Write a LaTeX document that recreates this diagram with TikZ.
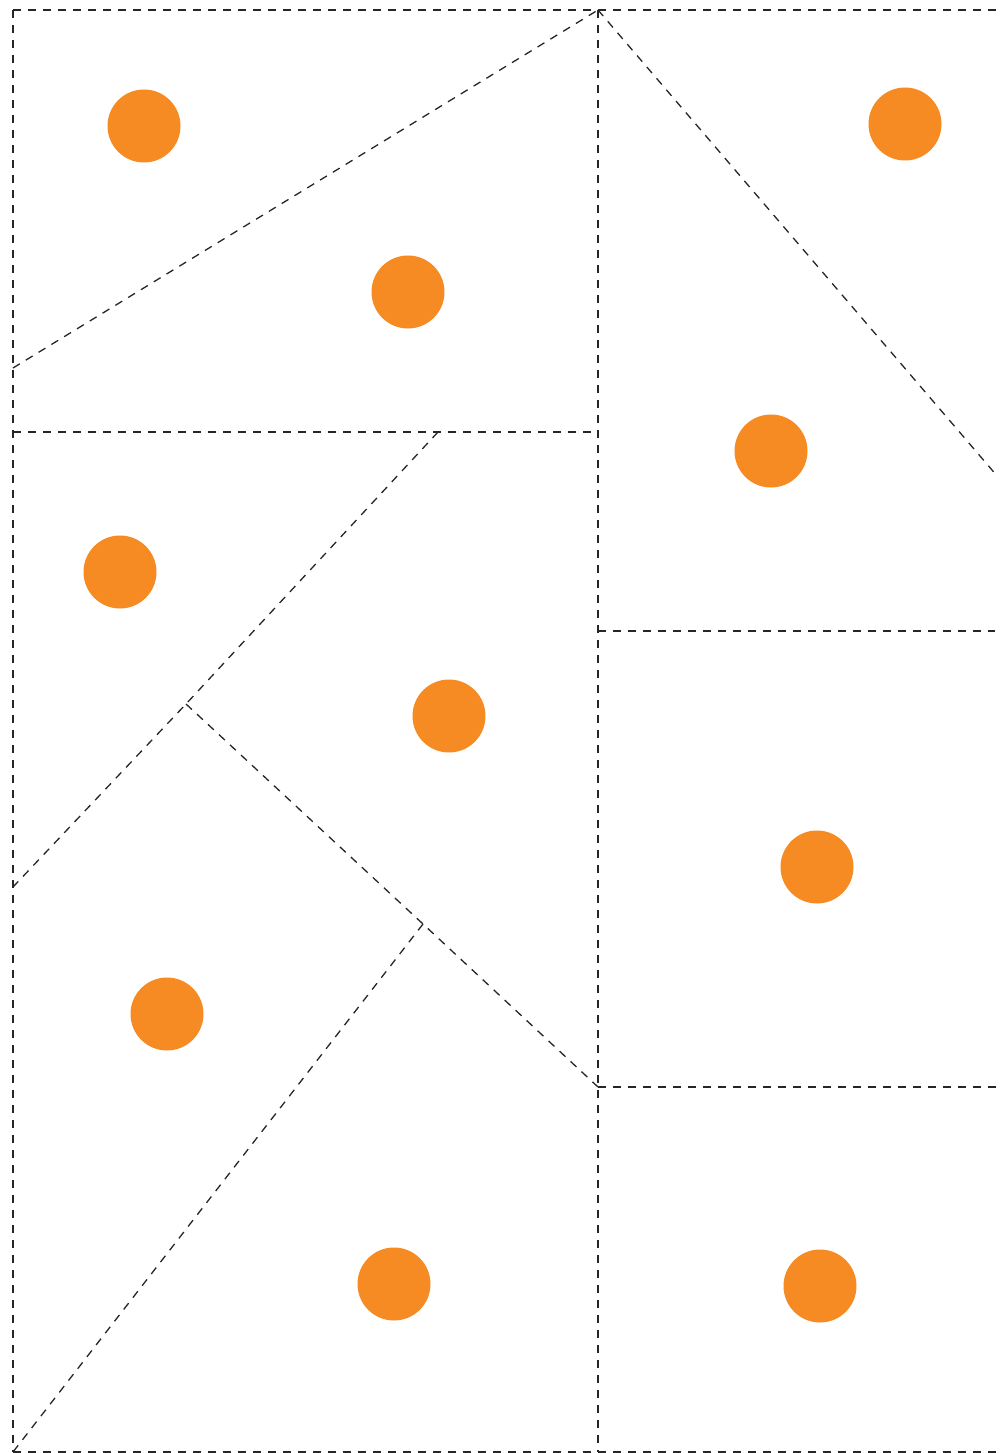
\documentclass[tikz,border=0pt]{standalone}
\definecolor{dotorange}{HTML}{F58B22}
\begin{document}
\begin{tikzpicture}[x=1pt,y=-1pt,
  cut/.style={draw=black!85,line width=1.3pt,dash pattern=on 8pt off 7pt},
  dot/.style={circle,fill=dotorange,minimum size=73pt,inner sep=0pt}]
\useasboundingbox (0,0) rectangle (1001,1453);
% corner points
\coordinate (tl) at (13,10);
\coordinate (tm) at (598,10);
\coordinate (tr) at (1001,10);
\coordinate (bl) at (13,1452);
\coordinate (bm) at (598,1452);
\coordinate (br) at (1001,1452);
\coordinate (l1) at (13,368);
\coordinate (l2) at (13,432);
\coordinate (m1) at (598,432);
\coordinate (p1) at (438,432);
\coordinate (p2) at (186,704);
\coordinate (l3) at (13,887);
\coordinate (p3) at (423,924);
\coordinate (m2) at (598,1087);
\coordinate (r1) at (998,477);
\coordinate (m3) at (598,631);
\coordinate (r2) at (995,631);
\coordinate (r3) at (1001,1087);
% frame
\draw[cut] (tl) -- (tr);
\draw[cut] (tl) -- (bl);
\draw[cut] (bl) -- (br);
\draw[cut] (tm) -- (bm);
% diagonals and cuts
\draw[cut] (l1) -- (tm);
\draw[cut] (tm) -- (r1);
\draw[cut] (l2) -- (m1);
\draw[cut] (p1) -- (p2) -- (l3);
\draw[cut] (p2) -- (p3) -- (m2);
\draw[cut] (p3) -- (bl);
\draw[cut] (m3) -- (r2);
\draw[cut] (m2) -- (r3);
% dots
\node[dot] (d1) at (144,126) {};
\node[dot] (d2) at (408,292) {};
\node[dot] (d3) at (905,124) {};
\node[dot] (d4) at (771,451) {};
\node[dot] (d5) at (120,572) {};
\node[dot] (d6) at (449,716) {};
\node[dot] (d7) at (817,867) {};
\node[dot] (d8) at (167,1014) {};
\node[dot] (d9) at (394,1284) {};
\node[dot] (d10) at (820,1286) {};
\end{tikzpicture}
\end{document}
